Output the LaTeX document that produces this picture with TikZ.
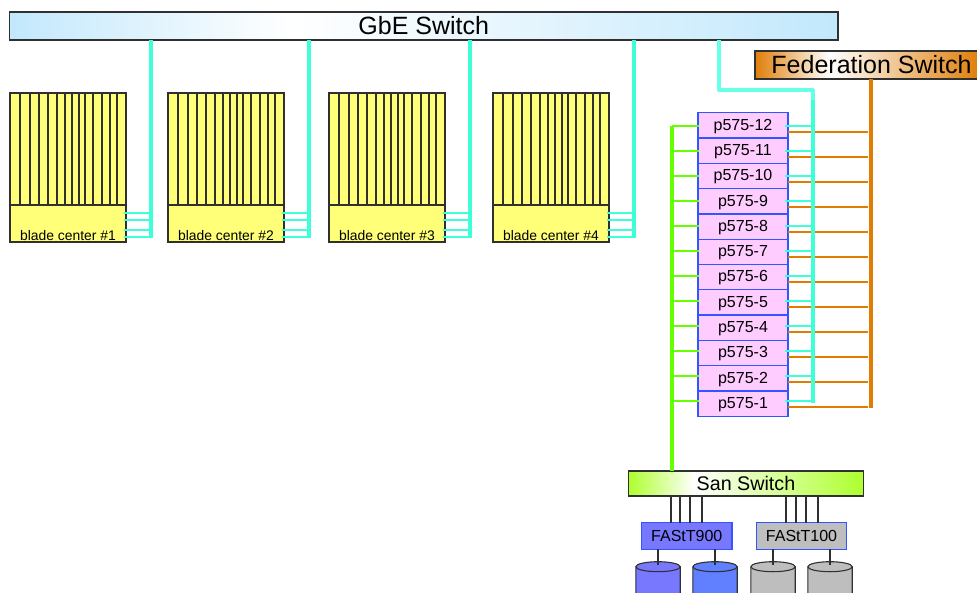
\documentclass[tikz,border=0pt]{standalone}
\usepackage{fontspec}
\setmainfont{Liberation Sans}
\usepackage{xcolor}
\usetikzlibrary{positioning}
\definecolor{gbeblue}{HTML}{C2E8FC}
\definecolor{fedorange}{HTML}{DF7F0A}
\definecolor{sanlime}{HTML}{AEFF2E}
\definecolor{linkcyan}{HTML}{3FFFD8}
\definecolor{linkcyanlt}{HTML}{66FFE8}
\definecolor{linkgreen}{HTML}{66FF00}
\definecolor{linkorange}{HTML}{E07C00}
\definecolor{bladeyellow}{HTML}{FFFF78}
\definecolor{nodepink}{HTML}{FFCCFF}
\definecolor{nodeblue}{HTML}{3355FF}
\definecolor{diskblue}{HTML}{7878FF}
\definecolor{diskblue2}{HTML}{6080FF}
\definecolor{diskgray}{HTML}{BEBEBE}
\definecolor{edgegray}{HTML}{303030}
\pgfdeclarehorizontalshading{gbeshade}{100bp}{color(0bp)=(gbeblue); color(25bp)=(gbeblue); color(42bp)=(white); color(75bp)=(gbeblue); color(100bp)=(gbeblue)}
\pgfdeclarehorizontalshading{fedshade}{100bp}{color(0bp)=(fedorange); color(25bp)=(fedorange); color(41bp)=(white); color(73bp)=(fedorange); color(100bp)=(fedorange)}
\pgfdeclarehorizontalshading{sanshade}{100bp}{color(0bp)=(sanlime); color(25bp)=(sanlime); color(39bp)=(white); color(75bp)=(sanlime); color(100bp)=(sanlime)}
\newcommand{\diskbody}[2]{%
  \draw[diskline, fill=#2] ([xshift=-22.2pt]#1) -- ++(0,40) -- ++(44.4,0) -- ++(0,-40)
    arc[start angle=0, end angle=180, x radius=22.2pt, y radius=5pt] -- cycle;
  \draw[diskline] ([xshift=-22.2pt]#1) arc[start angle=180, end angle=360, x radius=22.2pt, y radius=5pt];
}

\begin{document}
\begin{tikzpicture}[x=1pt, y=-1pt,
  switchbox/.style={rectangle, draw=edgegray, line width=1.2pt, inner sep=0pt, outer sep=0pt, anchor=north west},
  bladebox/.style={rectangle, draw=edgegray, fill=bladeyellow, line width=1.2pt, inner sep=0pt, outer sep=0pt,
    minimum width=116pt, minimum height=112pt, anchor=north west},
  bladebase/.style={rectangle, draw=edgegray, fill=bladeyellow, line width=1.2pt, inner sep=0pt, outer sep=0pt,
    minimum width=116pt, minimum height=37pt},
  bladetext/.style={inner sep=0pt, font=\fontsize{13.9}{14}\selectfont},
  pnode/.style={rectangle, draw=nodeblue, fill=nodepink, line width=1.3pt, inner sep=0pt, outer sep=0pt,
    minimum width=90pt, minimum height=25.3pt, text height=9.5pt, text depth=0pt, font=\fontsize{16}{16}\selectfont},
  fastt/.style={rectangle, draw=nodeblue, line width=1.3pt, inner sep=0pt, outer sep=0pt, anchor=north west,
    minimum width=90.5pt, minimum height=26.5pt, font=\fontsize{16}{16}\selectfont},
  diskline/.style={edgegray, line width=1.1pt},
  slot/.style={edgegray, line width=1.1pt},
  gbebus/.style={linkcyan, line width=3.6pt},
  gbelink/.style={linkcyan, line width=1.2pt},
  sanbus/.style={linkgreen, line width=3.6pt},
  sanlink/.style={linkgreen, line width=1.2pt},
  fedbus/.style={linkorange, line width=3.6pt},
  fedlink/.style={linkorange, line width=1.2pt},
  fclink/.style={edgegray, line width=1.1pt},
]
  \useasboundingbox (0,0) rectangle (977,592);
  \clip (0,0) rectangle (977,592);

  % switches
  \node[switchbox, shading=gbeshade, minimum width=828.5pt, minimum height=28pt,
    font=\fontsize{25}{25}\selectfont] (gbe) at (9.5,12) {GbE Switch};
  \node[switchbox, shading=fedshade, minimum width=233pt, minimum height=28pt,
    font=\fontsize{25}{25}\selectfont] (fed) at (755,51) {Federation Switch};
  \node[switchbox, shading=sanshade, minimum width=235pt, minimum height=25pt,
    font=\fontsize{19.7}{20}\selectfont] (san) at (628.5,471) {San Switch};

  % blade centers
  \node[bladebox] (b1) at (10,93) {};
  \node[bladebox] (b2) at (168,93) {};
  \node[bladebox] (b3) at (329,93) {};
  \node[bladebox] (b4) at (493,93) {};
  \node[bladebase, below=0pt of b1] (base1) {};
  \node[bladebase, below=0pt of b2] (base2) {};
  \node[bladebase, below=0pt of b3] (base3) {};
  \node[bladebase, below=0pt of b4] (base4) {};
  \node[bladetext, above=1pt of base1.south] (lab1) {blade center \#1};
  \node[bladetext, above=1pt of base2.south] (lab2) {blade center \#2};
  \node[bladetext, above=1pt of base3.south] (lab3) {blade center \#3};
  \node[bladetext, above=1pt of base4.south] (lab4) {blade center \#4};
  \coordinate (drop1) at (151,238);
  \coordinate (drop2) at (309,238);
  \coordinate (drop3) at (470,238);
  \coordinate (drop4) at (634,238);
  \foreach \b in {1,2,3,4}{
    \foreach \sx in {10,20,29,38,47,55,62,69,75,83,92,100,107}
      \draw[slot] ([xshift=\sx pt]b\b.north west) -- ([xshift=\sx pt]b\b.south west);
    \foreach \dy in {5,12,22,29}{
      \coordinate (tap) at ([yshift=\dy pt]base\b.south east);
      \draw[gbelink] ([xshift=-2pt]tap) -- (tap -| drop\b);
    }
    \draw[gbebus] (drop\b |- gbe.south) -- (drop\b);
  }

  % p575 stack
  \node[pnode] (p12) at (743,125.35) {p575-12};
  \node[pnode, below=0pt of p12] (p11) {p575-11};
  \node[pnode, below=0pt of p11] (p10) {p575-10};
  \node[pnode, below=0pt of p10] (p9) {p575-9};
  \node[pnode, below=0pt of p9] (p8) {p575-8};
  \node[pnode, below=0pt of p8] (p7) {p575-7};
  \node[pnode, below=0pt of p7] (p6) {p575-6};
  \node[pnode, below=0pt of p6] (p5) {p575-5};
  \node[pnode, below=0pt of p5] (p4) {p575-4};
  \node[pnode, below=0pt of p4] (p3) {p575-3};
  \node[pnode, below=0pt of p3] (p2) {p575-2};
  \node[pnode, below=0pt of p2] (p1) {p575-1};

  \coordinate (sanbus) at (671.7,125.5);
  \coordinate (gbebend) at (719,90);
  \coordinate (gbemid) at (813,100);
  \coordinate (gbeend) at (813,403);
  \coordinate (fedbus) at (871,407.5);

  \foreach \k in {1,...,12}{
    \pgfmathsetmacro{\dy}{0.3*(12-\k)-0.65}
    \coordinate (tap) at ([yshift=\dy pt]p\k.east);
    \coordinate (sanpt) at ([yshift=\dy pt]p\k.west);
    \draw[fedlink] ([yshift=-6pt]tap) -- ([yshift=-6pt,xshift=-3pt]tap -| fedbus);
    \draw[gbelink] ([xshift=-3pt]tap) -- (tap -| gbeend);
    \draw[sanlink] ([xshift=1pt]sanpt) -- (sanpt -| sanbus);
  }
  \draw[sanbus] (sanbus) -- (sanbus |- san.north);
  \draw[fedbus] (fedbus |- fed.south) -- (fedbus);
  \draw[linkcyanlt, line width=3.2pt, line join=round] (gbebend |- gbe.south) -- (gbebend) -| (gbemid);
  \draw[gbebus, line width=4.4pt] (gbemid) -- (gbeend);

  % storage
  \node[fastt, fill=diskblue] (ft900) at (641.5,522.8) {FAStT900};
  \node[fastt, fill=diskgray] (ft100) at (756.3,522.8) {FAStT100};
  \foreach \x in {671,680,690,702}{
    \coordinate (tap) at (\x,500);
    \draw[fclink] (tap |- san.south) -- (tap |- ft900.north);
  }
  \foreach \x in {786,796,806,818}{
    \coordinate (tap) at (\x,500);
    \draw[fclink] (tap |- san.south) -- (tap |- ft100.north);
  }
  \coordinate (disk1) at (658,566.7);
  \coordinate (disk2) at (715,566.7);
  \coordinate (disk3) at (773,566.7);
  \coordinate (disk4) at (830,566.7);
  \diskbody{disk1}{diskblue}
  \diskbody{disk2}{diskblue2}
  \diskbody{disk3}{diskgray}
  \diskbody{disk4}{diskgray}
  \draw[fclink, shorten >=2pt] (disk1 |- ft900.south) -- (disk1);
  \draw[fclink, shorten >=2pt] (disk2 |- ft900.south) -- (disk2);
  \draw[fclink, shorten >=2pt] (disk3 |- ft100.south) -- (disk3);
  \draw[fclink, shorten >=2pt] (disk4 |- ft100.south) -- (disk4);
\end{tikzpicture}
\end{document}
